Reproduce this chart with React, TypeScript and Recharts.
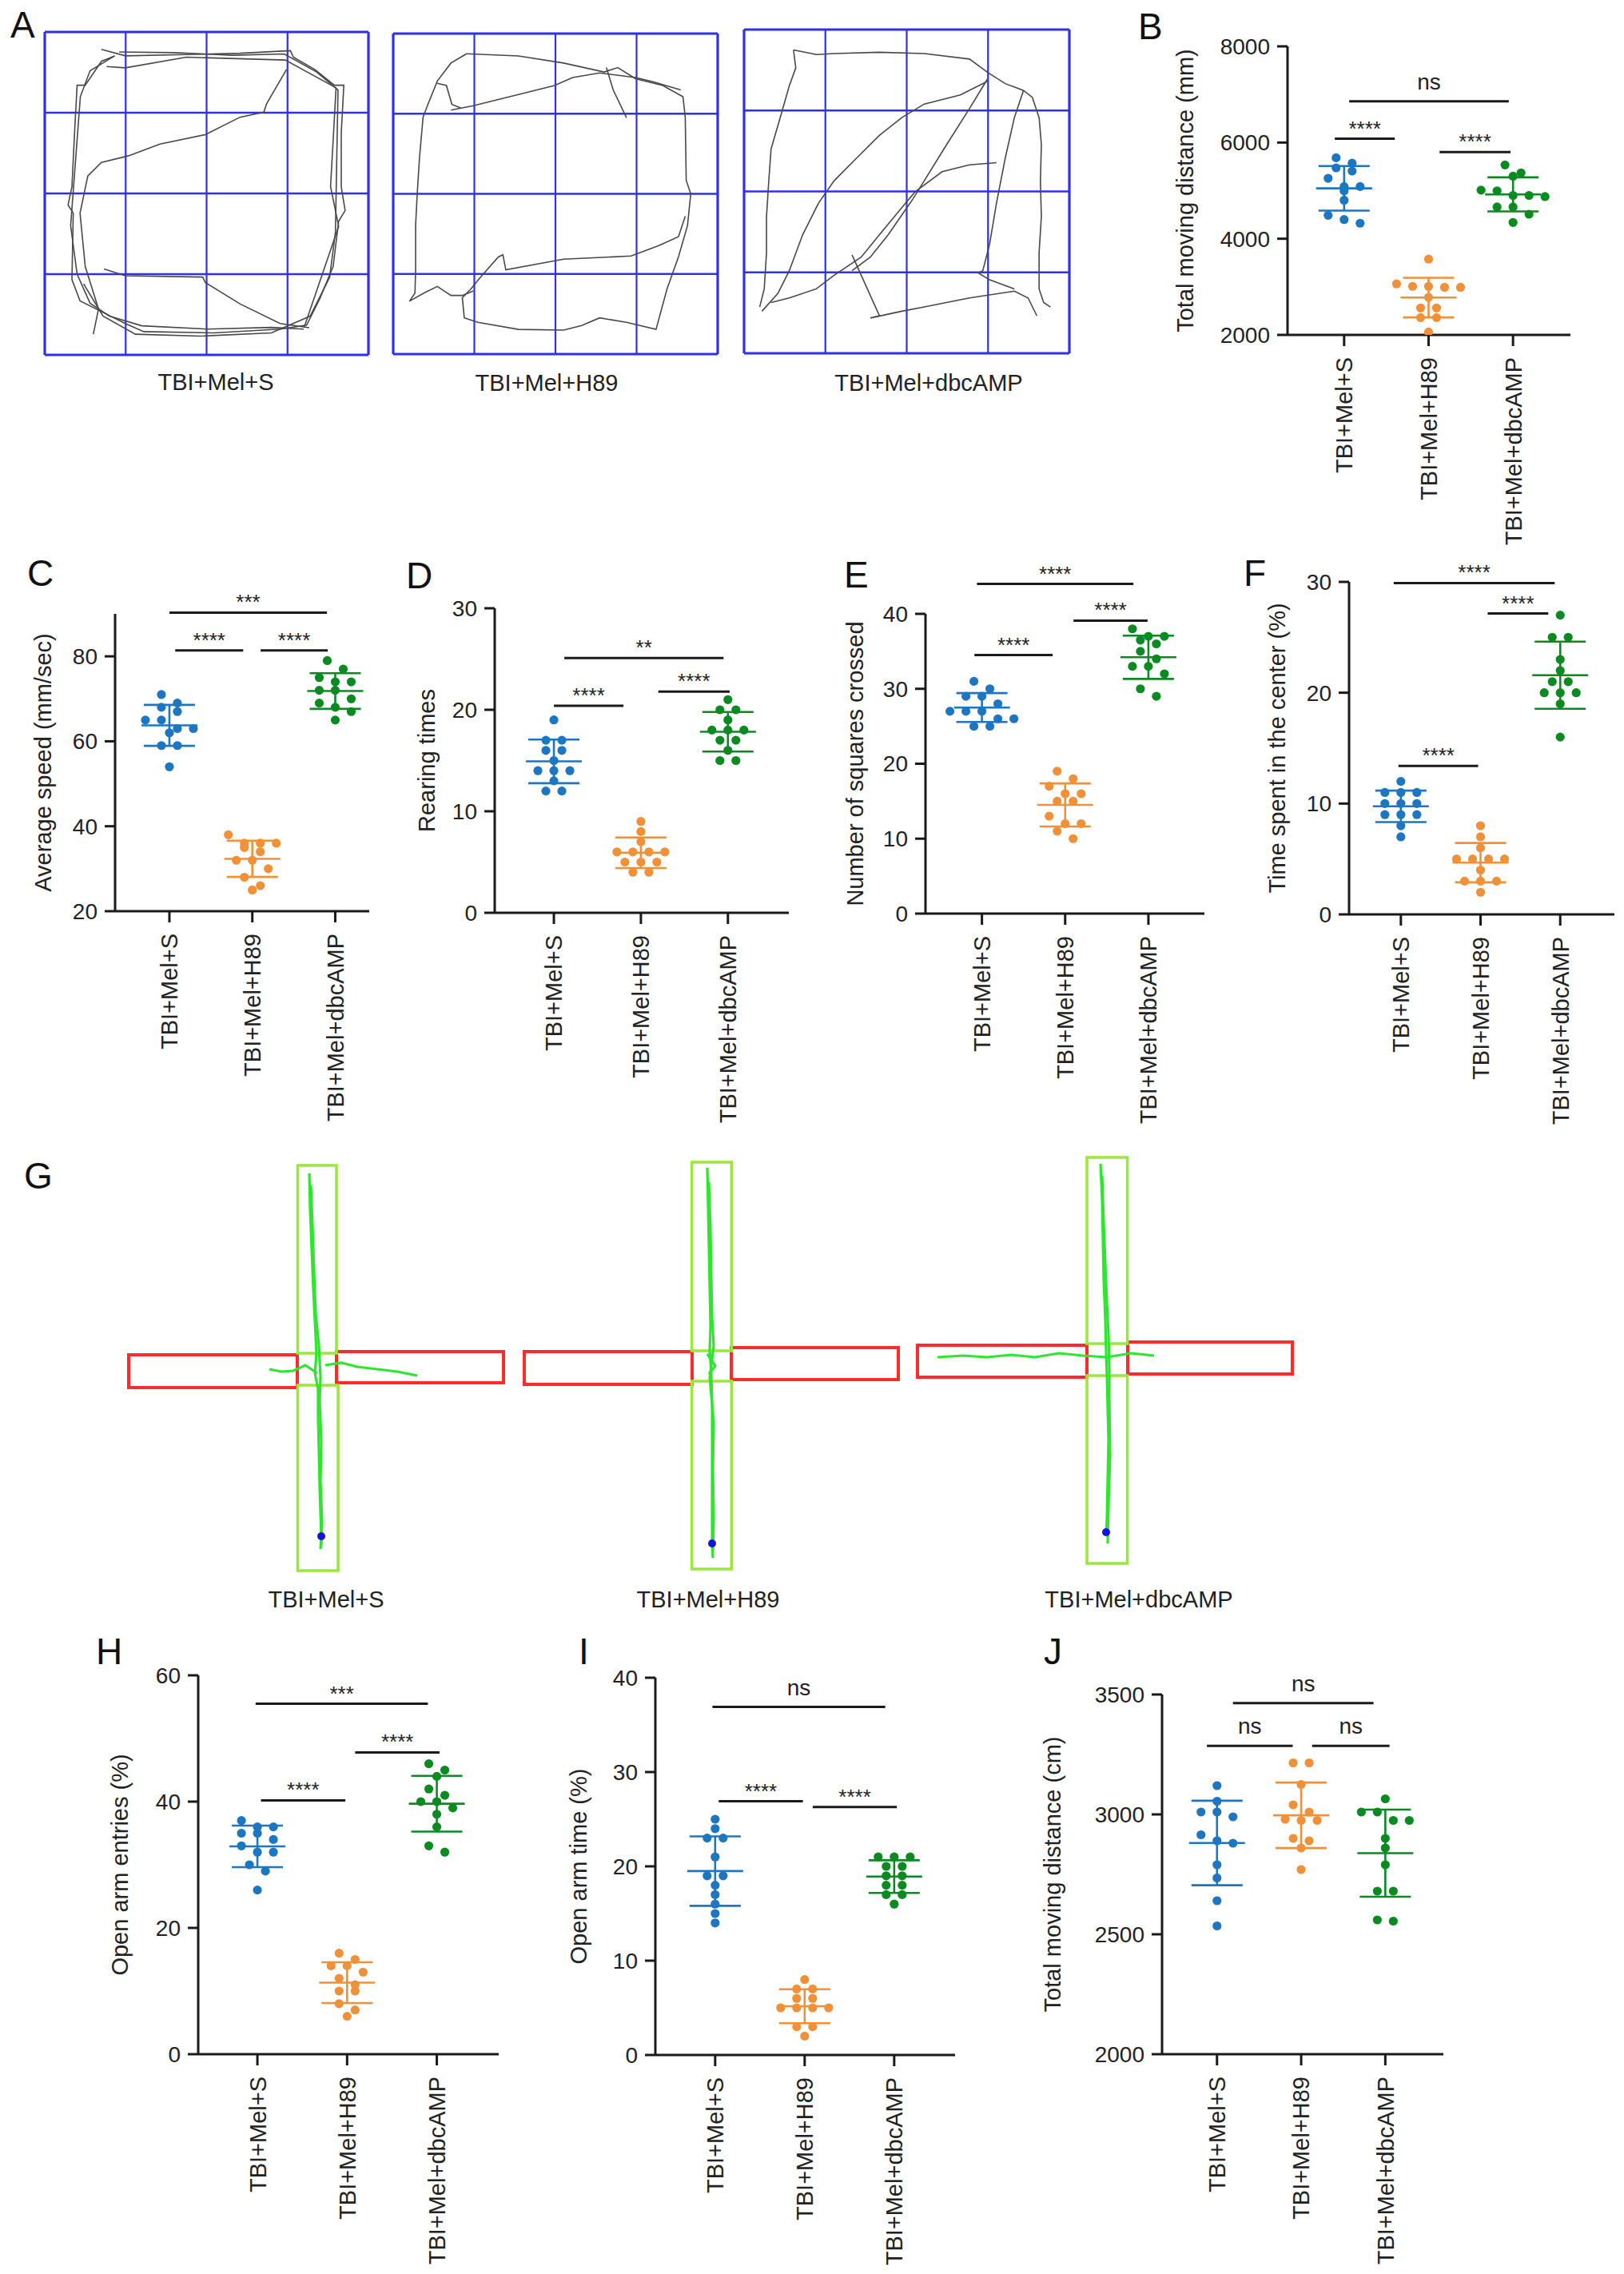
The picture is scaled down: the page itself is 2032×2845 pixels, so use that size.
import React from 'react';
import { ScatterChart, Scatter, XAxis, YAxis, ErrorBar, ReferenceLine, ReferenceArea, Label } from 'recharts';

const FONT = '"Liberation Sans", Arial, Helvetica, sans-serif';
const INK = '#1a1a1a';
const groups = ['TBI+Mel+S', 'TBI+Mel+H89', 'TBI+Mel+dbcAMP'];
const colors = ['#1f76c0', '#f0913a', '#0b8a22'];

// B - open field, total moving distance (mm)
const distS = [5683, 5571, 5474, 5407, 5257, 5085, 5085, 4996, 4801, 4487, 4398, 4323];
const distH89 = [3576, 3060, 3010, 3010, 2990, 2990, 2780, 2560, 2560, 2360, 2360, 2060];
const distDbc = [5534, 5369, 5300, 5010, 4996, 4900, 4900, 4876, 4660, 4660, 4510, 4338];
const sigB = [
  { from: 0.89, to: 1.6, y: 6080, text: '****' },
  { from: 2.13, to: 2.97, y: 5803, text: '****' },
  { from: 1.06, to: 2.95, y: 6857, text: 'ns' },
];

// C - average speed (mm/sec)
const speedS = [71, 69, 68, 67, 65, 65, 63, 63, 62, 59, 59, 54];
const speedH89 = [38, 36, 36, 36, 35, 34, 32, 32, 30, 28, 26, 25];
const speedDbc = [79, 77, 75, 74, 74, 72, 72, 70, 69, 68, 67, 65];
const sigC = [
  { from: 1.0, to: 2.9, y: 90.3, text: '***' },
  { from: 1.07, to: 1.89, y: 81.4, text: '****' },
  { from: 2.1, to: 2.91, y: 81.4, text: '****' },
];

// D - rearing times
const rearS = [19, 17, 17, 16, 16, 15, 14, 14, 14, 13, 12, 12];
const rearH89 = [9, 8, 7, 6, 6, 6, 6, 5, 5, 5, 4, 4];
const rearDbc = [21, 20, 20, 19, 18, 18, 18, 17, 17, 16, 15, 15];
const sigD = [
  { from: 1.12, to: 2.95, y: 25.1, text: '**' },
  { from: 1.0, to: 1.8, y: 20.4, text: '****' },
  { from: 2.2, to: 3.02, y: 21.8, text: '****' },
];

// E - number of squares crossed
const crossS = [31, 30, 29, 29, 28, 27, 27, 27, 26, 26, 25, 25];
const crossH89 = [19, 18, 17, 16, 16, 15, 15, 13, 12, 12, 11, 10];
const crossDbc = [38, 37, 37, 36.5, 36, 35, 34, 33, 33, 32, 30, 29];
const sigE = [
  { from: 0.94, to: 2.82, y: 44.0, text: '****' },
  { from: 0.91, to: 1.85, y: 34.5, text: '****' },
  { from: 2.1, to: 2.99, y: 39.1, text: '****' },
];

// F - time spent in the center (%)
const centerS = [12, 11, 11, 11, 10, 10, 10, 9, 9, 9, 8, 7];
const centerH89 = [8, 7, 6, 5, 5, 5, 5, 4, 3, 3, 3, 2];
const centerDbc = [27, 25, 25, 23, 22, 21, 21, 20, 20, 20, 19, 16];
const sigF = [
  { from: 0.91, to: 2.93, y: 29.9, text: '****' },
  { from: 2.09, to: 2.85, y: 27.15, text: '****' },
  { from: 0.97, to: 1.97, y: 13.4, text: '****' },
];

// H - open arm entries (%)
const entryS = [37, 36, 36, 35, 35, 34, 33, 32, 32, 30, 29, 26];
const entryH89 = [16, 15, 14, 14, 13, 12, 11, 10, 10, 8, 7, 6];
const entryDbc = [46, 45, 44, 42, 41, 40, 40, 39, 38, 36, 33, 32];
const sigH = [
  { from: 0.98, to: 2.9, y: 55.5, text: '***' },
  { from: 1.04, to: 1.98, y: 40.2, text: '****' },
  { from: 2.09, to: 3.03, y: 47.8, text: '****' },
];

// I - open arm time (%)
const armS = [25, 24, 23, 23, 21, 19, 19, 18, 17, 16, 15, 14];
const armH89 = [8, 7, 7, 6, 6, 5, 5, 5, 5, 3, 3, 2];
const armDbc = [21, 21, 21, 20, 20, 19, 19, 18, 18, 17, 17, 16];
const sigI = [
  { from: 0.97, to: 2.9, y: 36.9, text: 'ns' },
  { from: 1.04, to: 1.98, y: 26.9, text: '****' },
  { from: 2.09, to: 3.03, y: 26.3, text: '****' },
];

// J - plus maze total moving distance (cm)
const epmS = [3120, 3055, 3010, 3010, 2990, 2915, 2890, 2880, 2790, 2735, 2640, 2535];
const epmH89 = [3215, 3215, 3125, 3040, 3010, 2980, 2975, 2975, 2900, 2890, 2860, 2770];
const epmDbc = [3065, 3010, 3010, 2975, 2975, 2900, 2860, 2790, 2680, 2680, 2560, 2555];
const sigJ = [
  { from: 1.19, to: 2.86, y: 3464, text: 'ns' },
  { from: 0.88, to: 1.9, y: 3286, text: 'ns' },
  { from: 2.13, to: 3.05, y: 3286, text: 'ns' },
];

// A - open field tracks, % of arena width / height
const trackS = [
  [[17.5, 5.4], [24.9, 7.4], [43.8, 7.0], [60.3, 6.6], [75.9, 5.8], [76.8, 7.8], [83.4, 11.6], [89.5, 16.5], [92.4, 16.5], [91.6, 31.4], [91.6, 47.9], [92.8, 55.3], [90.8, 58.6], [89.1, 72.6], [85.0, 82.5], [80.9, 90.8], [72.7, 92.0], [52.1, 93.2], [30.6, 92.8], [24.9, 90.3], [17.5, 86.6], [10.9, 83.3], [8.4, 76.7], [8.8, 56.1], [7.2, 53.6], [8.4, 47.9], [9.2, 31.4], [10.0, 16.5], [12.5, 16.5], [17.5, 9.1], [21.6, 7.4]],
  [[74.7, 11.6], [68.5, 22.3], [67.7, 24.8], [60.3, 26.4], [49.6, 31.8], [35.6, 34.7], [25.7, 38.4], [17.5, 40.4], [13.3, 44.6], [10.9, 56.1], [12.5, 72.6], [16.6, 85.8], [15.0, 93.6]],
  [[18.3, 73.4], [24.9, 75.5], [48.8, 75.9], [49.6, 77.6], [60.3, 84.2], [72.7, 90.3], [81.7, 91.6]],
  [[19.1, 10.7], [24.9, 11.1], [43.8, 7.8], [74.3, 8.7], [90.0, 17.3], [88.3, 47.9], [90.8, 60.2], [80.1, 91.6]],
  [[21.6, 7.4], [14, 12], [11, 20], [9.5, 40], [8, 60], [10, 75], [14, 84], [20, 88], [30, 91], [50, 92], [70, 91.5], [80, 92]],
  [[23, 6.2], [40, 6.4], [58, 7.2], [74, 6.8], [84, 12.4], [90.6, 18], [90.2, 40], [89.8, 62], [88, 76], [82, 88], [70, 93.2], [48, 94.2], [28, 93.6], [18, 88], [12, 78]],
];
const trackH89 = [
  [[22.6, 6.3], [38.6, 7.0], [52.5, 9.2], [65.0, 12.0], [69.2, 10.6], [74.7, 14.1], [83.1, 16.2], [89.3, 19.7], [90.0, 26.1], [90.3, 45.8], [91.7, 50.0], [90.7, 59.9], [87.9, 69.7], [84.4, 79.6], [81.0, 92.3], [71.9, 90.1], [63.6, 88.7], [58.1, 91.1], [52.5, 92.5], [38.6, 92.3], [26.1, 90.1], [21.9, 88.7], [21.3, 82.4], [24.0, 79.6], [26.8, 76.1], [32.4, 69.7], [33.8, 69.0], [34.7, 73.7], [52.5, 70.4], [73.3, 69.4], [81.7, 66.2], [87.9, 63.4], [90.0, 57.0]],
  [[22.6, 6.3], [17.8, 9.2], [13.6, 14.8], [10.8, 21.8], [9.2, 26.1], [8.1, 38.7], [7.4, 50.0], [6.9, 59.9], [6.9, 73.9], [6.7, 81.0], [5.0, 83.5], [9.4, 81.0], [13.6, 78.9], [17.8, 81.7], [21.3, 81.7], [24.7, 80.3]],
  [[17.8, 23.9], [24.7, 22.5], [38.6, 19.0], [49.7, 16.2], [55.3, 13.7], [63.6, 12.3], [74.7, 13.7], [80.3, 15.1], [88.6, 17.6]],
  [[13.6, 15.5], [16.4, 16.2], [18.1, 22.1], [20.8, 23.2]],
  [[65.7, 10.6], [67.8, 17.6], [71.9, 26.3]],
];
const trackDbc = [
  [[15.2, 6.3], [22.2, 7.7], [27.7, 7.4], [41.6, 7.0], [55.4, 7.4], [69.3, 9.1], [74.8, 13.2], [80.3, 16.7], [85.9, 18.8], [88.6, 20.9], [90.7, 27.2], [91.4, 35.5], [91.1, 46.7], [91.4, 57.8], [90.7, 68.9], [90.7, 80.1], [92.1, 84.3], [94.2, 85.7]],
  [[15.2, 6.3], [15.9, 11.8], [13.9, 17.4], [11.1, 27.2], [8.3, 36.9], [7.6, 46.7], [6.9, 57.8], [6.9, 68.9], [6.2, 80.1], [4.8, 85.7]],
  [[74.8, 16.0], [66.5, 20.2], [55.4, 23.0], [48.5, 27.2], [41.6, 32.7], [34.6, 39.7], [27.7, 46.7], [22.9, 53.6], [18.0, 63.4], [13.9, 74.5], [10.4, 81.5], [5.5, 87.0]],
  [[74.8, 15.3], [69.3, 24.4], [62.3, 35.5], [55.4, 46.7], [52.0, 52.2], [44.3, 63.4], [38.8, 70.3], [33.2, 74.5]],
  [[77.6, 41.1], [69.3, 41.8], [60.9, 43.9], [52.6, 50.1], [48.5, 55.0], [41.6, 63.4], [36.0, 70.3], [27.7, 75.9], [22.2, 80.1], [13.9, 82.9], [8.3, 84.3]],
  [[33.2, 69.6], [41.6, 88.4], [38.8, 89.1], [48.5, 87.0], [55.4, 85.7], [69.3, 82.9], [83.1, 80.8], [87.3, 82.9], [90.0, 88.4]],
  [[85.9, 18.8], [83.1, 27.2], [80.3, 39.7], [77.6, 53.6], [75.5, 66.2], [73.4, 74.5], [72.0, 75.2], [75.5, 77.3], [83.1, 80.1]],
];

// G - elevated plus maze; arms in px from the maze centre [x1, x2, y1, y2]
const mazeOpen = [
  [[-236, -25, -18, 23], [24, 233, -22, 17]],
  [[-234, -24, -18, 23], [25, 234, -23, 17]],
  [[-237, -25, -18, 22], [26, 232, -22, 18]],
];
const mazeClosed = [
  [[-24.5, 24, -255, -20], [-24.5, 26, 20, 252]],
  [[-24.4, 25.3, -255, -19], [-24.4, 25.3, 19, 254]],
  [[-25, 25.6, -253, -20], [-25, 25.6, 20, 255]],
];
const mazeTracks = [
  [
    [[-10, -245], [-9, -200], [-7, -150], [-5, -100], [-3, -60], [-1, -20], [-3, 5], [1, 25], [1, 60], [2, 100], [3, 150], [4, 180], [5, 210], [4, 225]],
    [[-8, -230], [-6, -180], [-4, -120], [-2, -70], [2, -30], [4, 10], [3, 40], [5, 90], [4, 140], [6, 190], [5, 220]],
    [[10, -5], [30, -8], [50, -3], [75, 0], [100, 3], [125, 8]],
    [[-60, 0], [-45, 3], [-30, 2], [-15, -5], [0, 5]],
  ],
  [
    [[-5, -248], [-4, -200], [-3, -150], [-2, -100], [-1, -50], [-2, -20], [0, 10], [1, 50], [1, 100], [1, 150], [1, 200], [1, 222], [2, 240]],
    [[-3, -230], [-1, -170], [0, -110], [1, -60], [3, -25], [-2, 15], [3, 70], [2, 130], [3, 190], [2, 230]],
    [[-5, -15], [5, 0], [-3, 10]],
  ],
  [
    [[-8, -245], [-6, -200], [-5, -150], [-4, -100], [-2, -50], [-1, -10], [0, 20], [1, 60], [2, 100], [1, 150], [0, 200], [-1, 215]],
    [[-6, -230], [-4, -170], [-2, -120], [0, -70], [2, -30], [3, 10], [3, 50], [4, 120], [2, 180], [1, 230]],
    [[-212, -3], [-180, -5], [-150, -3], [-120, -6], [-90, -3], [-60, -8], [-30, -5], [0, -3], [30, -8], [59, -5]],
  ],
];
const mazeEnd = [[5, 209], [1, 222], [-1, 216]];

const gridSteps = [0, 25, 50, 75, 100];

type Sig = { from: number; to: number; y: number; text: string };

function swarm(vals: number[], cx: number, pxX: number, pxY: number) {
  const sorted = [...vals].sort((a, b) => b - a);
  const rows: number[][] = [];
  sorted.forEach((v) => {
    const row = rows[rows.length - 1];
    if (row && (row[0] - v) * pxY < 11) row.push(v);
    else rows.push([v]);
  });
  const pts: { x: number; y: number }[] = [];
  rows.forEach((row) => {
    row.forEach((v, i) => pts.push({ x: cx + ((i - (row.length - 1) / 2) * 20) / pxX, y: v }));
  });
  return pts;
}

function summary(vals: number[]) {
  const n = vals.length;
  const mean = vals.reduce((s, v) => s + v, 0) / n;
  const sd = Math.sqrt(vals.reduce((s, v) => s + (v - mean) ** 2, 0) / (n - 1));
  return { mean, sd };
}

const CatTick = (props: any) => {
  const { x, y, payload } = props;
  const name = groups[Math.round(payload.value) - 1] ?? '';
  return (
    <text x={x} y={y} dy="0.36em" transform={`rotate(-90 ${x} ${y})`} textAnchor="end" fontSize={29} fill="#222">
      {name}
    </text>
  );
};

const sigLabel = (text: string) => (props: any) => {
  const vb = props.viewBox || {};
  const cx = (vb.x ?? 0) + (vb.width ?? 0) / 2;
  const y = vb.y ?? 0;
  const star = text.includes('*');
  return (
    <text x={cx} y={star ? y - 4 : y - 15} textAnchor="middle" fontSize={star ? 26 : 28} fill="#222">
      {text}
    </text>
  );
};

type PanelProps = {
  box: { left: number; top: number; bottom: number; right: number };
  xDomain: [number, number];
  yDomain: [number, number];
  yTicks: number[];
  title: string;
  titleX: number;
  series: number[][];
  sigs: Sig[];
};

function DotPanel({ box, xDomain, yDomain, yTicks, title, titleX, series, sigs }: PanelProps) {
  const ML = 170, MR = 30, MT = 140, MB = 290, YW = 120, XH = 280;
  const plotW = box.right - box.left;
  const plotH = box.bottom - box.top;
  const chartLeft = box.left - ML;
  const chartTop = box.top - MT;
  const pxX = plotW / (xDomain[1] - xDomain[0]);
  const pxY = plotH / (yDomain[1] - yDomain[0]);
  const tx = titleX - chartLeft;
  const ty = (box.top + box.bottom) / 2 - chartTop;

  return (
    <div style={{ position: 'absolute', left: chartLeft, top: chartTop }}>
      <ScatterChart
        width={plotW + ML + MR}
        height={plotH + MT + MB}
        margin={{ top: MT, right: MR, bottom: MB - XH, left: ML - YW }}
      >
        <XAxis
          type="number"
          dataKey="x"
          domain={xDomain}
          ticks={[1, 2, 3]}
          interval={0}
          allowDataOverflow
          height={XH}
          tick={<CatTick />}
          tickSize={14}
          tickMargin={14}
          axisLine={{ stroke: INK, strokeWidth: 3 }}
          tickLine={{ stroke: INK, strokeWidth: 3 }}
        />
        <YAxis
          type="number"
          dataKey="y"
          domain={yDomain}
          ticks={yTicks}
          interval={0}
          allowDataOverflow
          width={YW}
          tickSize={13}
          tickMargin={9}
          tick={{ fontSize: 28, fill: '#222' }}
          axisLine={{ stroke: INK, strokeWidth: 3 }}
          tickLine={{ stroke: INK, strokeWidth: 3 }}
        >
          <Label
            content={() => (
              <text x={tx} y={ty} dy="0.36em" transform={`rotate(-90 ${tx} ${ty})`} textAnchor="middle" fontSize={29} fill="#222">
                {title}
              </text>
            )}
          />
        </YAxis>
        {series.map((vals, gi) => (
          <Scatter
            key={`dots-${gi}`}
            data={swarm(vals, gi + 1, pxX, pxY)}
            fill={colors[gi]}
            isAnimationActive={false}
            shape={(p: any) => <circle cx={p.cx} cy={p.cy} r={5.6} fill={colors[gi]} />}
          />
        ))}
        {series.map((vals, gi) => {
          const { mean, sd } = summary(vals);
          return (
            <Scatter
              key={`bar-${gi}`}
              data={[{ x: gi + 1, y: mean, sd, hw: 35 / pxX }]}
              fill={colors[gi]}
              isAnimationActive={false}
              shape={() => <g />}
            >
              <ErrorBar dataKey="hw" direction="x" width={0} stroke={colors[gi]} strokeWidth={2.6} isAnimationActive={false} />
              <ErrorBar dataKey="sd" direction="y" width={32} stroke={colors[gi]} strokeWidth={2.6} isAnimationActive={false} />
            </Scatter>
          );
        })}
        {sigs.map((s, i) => (
          <ReferenceLine
            key={`sig-${i}`}
            segment={[{ x: s.from, y: s.y }, { x: s.to, y: s.y }]}
            stroke={INK}
            strokeWidth={3}
            ifOverflow="visible"
            label={sigLabel(s.text)}
          />
        ))}
      </ScatterChart>
    </div>
  );
}

function Arena({ left, top, width, height, strands }: { left: number; top: number; width: number; height: number; strands: number[][][] }) {
  const pad = 4;
  return (
    <div style={{ position: 'absolute', left: left - pad, top: top - pad }}>
      <ScatterChart width={width + 2 * pad} height={height + 2 * pad} margin={{ top: pad, right: pad, bottom: pad, left: pad }}>
        <XAxis type="number" dataKey="x" domain={[0, 100]} hide allowDataOverflow />
        <YAxis type="number" dataKey="y" domain={[0, 100]} reversed hide allowDataOverflow />
        {gridSteps.map((v) => (
          <ReferenceLine key={`gx-${v}`} x={v} stroke="#2f2ff2" strokeWidth={v % 100 === 0 ? 3.2 : 2.2} ifOverflow="visible" />
        ))}
        {gridSteps.map((v) => (
          <ReferenceLine key={`gy-${v}`} y={v} stroke="#2f2ff2" strokeWidth={v % 100 === 0 ? 3.2 : 2.6} ifOverflow="visible" />
        ))}
        {strands.map((s, i) => (
          <Scatter
            key={`t-${i}`}
            data={s.map(([x, y]) => ({ x, y }))}
            fill="#505050"
            line={{ stroke: '#484848', strokeWidth: 1.6 }}
            shape={() => <g />}
            isAnimationActive={false}
          />
        ))}
      </ScatterChart>
    </div>
  );
}

function Maze({ cx, cy, idx }: { cx: number; cy: number; idx: number }) {
  return (
    <div style={{ position: 'absolute', left: cx - 260, top: cy - 270 }}>
      <ScatterChart width={520} height={540} margin={{ top: 0, right: 0, bottom: 0, left: 0 }}>
        <XAxis type="number" dataKey="x" domain={[-260, 260]} hide allowDataOverflow />
        <YAxis type="number" dataKey="y" domain={[-270, 270]} reversed hide allowDataOverflow />
        {mazeOpen[idx].map((r, i) => (
          <ReferenceArea key={`o-${i}`} x1={r[0]} x2={r[1]} y1={r[2]} y2={r[3]} fill="none" fillOpacity={0} stroke="#ff2b2b" strokeWidth={4} ifOverflow="visible" />
        ))}
        {mazeClosed[idx].map((r, i) => (
          <ReferenceArea key={`c-${i}`} x1={r[0]} x2={r[1]} y1={r[2]} y2={r[3]} fill="none" fillOpacity={0} stroke="#9be83c" strokeWidth={3.5} ifOverflow="visible" />
        ))}
        {mazeTracks[idx].map((s, i) => (
          <Scatter
            key={`m-${i}`}
            data={s.map(([x, y]) => ({ x, y }))}
            fill="#2fe52f"
            line={{ stroke: '#2fe52f', strokeWidth: 3.2 }}
            shape={() => <g />}
            isAnimationActive={false}
          />
        ))}
        <Scatter
          data={[{ x: mazeEnd[idx][0], y: mazeEnd[idx][1] }]}
          fill="#1414d8"
          isAnimationActive={false}
          shape={(p: any) => <circle cx={p.cx} cy={p.cy} r={5} fill="#1414d8" />}
        />
      </ScatterChart>
    </div>
  );
}

const letters: [string, number, number][] = [
  ['A', 13, 47], ['B', 1424, 49], ['C', 34, 733], ['D', 508, 736], ['E', 1056, 735],
  ['F', 1556, 733], ['G', 30, 1487], ['H', 120, 2082], ['I', 724, 2082], ['J', 1306, 2082],
];
const sectionLabels: [string, number, number][] = [
  ['TBI+Mel+S', 270, 488], ['TBI+Mel+H89', 684, 489], ['TBI+Mel+dbcAMP', 1162, 489],
  ['TBI+Mel+S', 408, 2011], ['TBI+Mel+H89', 886, 2011], ['TBI+Mel+dbcAMP', 1425, 2011],
];

export default function App() {
  return (
    <div style={{ position: 'absolute', left: 0, top: 0, width: 2032, height: 2845, background: '#fff', fontFamily: FONT, overflow: 'hidden' }}>
      <svg width={2032} height={2845} style={{ position: 'absolute', left: 0, top: 0 }}>
        {letters.map(([t, x, y]) => (
          <text key={t} x={x} y={y} fontSize={46} fill="#111">{t}</text>
        ))}
        {sectionLabels.map(([t, x, y], i) => (
          <text key={i} x={x} y={y} fontSize={29} fill="#222" textAnchor="middle">{t}</text>
        ))}
      </svg>

      <Arena left={56} top={40} width={405} height={404} strands={trackS} />
      <Arena left={492} top={42} width={406} height={401} strands={trackH89} />
      <Arena left={931} top={37} width={407} height={405} strands={trackDbc} />

      <Maze cx={397} cy={1713} idx={0} />
      <Maze cx={890} cy={1709} idx={1} />
      <Maze cx={1385} cy={1701} idx={2} />

      <DotPanel box={{ left: 1611, top: 58, bottom: 419, right: 1965 }} xDomain={[0.33, 3.68]} yDomain={[2000, 8000]} yTicks={[2000, 4000, 6000, 8000]} title="Total moving distance (mm)" titleX={1483} series={[distS, distH89, distDbc]} sigs={sigB} />
      <DotPanel box={{ left: 144, top: 768, bottom: 1140, right: 462 }} xDomain={[0.345, 3.41]} yDomain={[20, 90]} yTicks={[20, 40, 60, 80]} title="Average speed (mm/sec)" titleX={54} series={[speedS, speedH89, speedDbc]} sigs={sigC} />
      <DotPanel box={{ left: 619, top: 761, bottom: 1142, right: 987 }} xDomain={[0.32, 3.7]} yDomain={[0, 30]} yTicks={[0, 10, 20, 30]} title="Rearing times" titleX={534} series={[rearS, rearH89, rearDbc]} sigs={sigD} />
      <DotPanel box={{ left: 1158, top: 768, bottom: 1143, right: 1507 }} xDomain={[0.322, 3.673]} yDomain={[0, 40]} yTicks={[0, 10, 20, 30, 40]} title="Number of squares crossed" titleX={1070} series={[crossS, crossH89, crossDbc]} sigs={sigE} />
      <DotPanel box={{ left: 1688, top: 728, bottom: 1144, right: 2020 }} xDomain={[0.35, 3.68]} yDomain={[0, 30]} yTicks={[0, 10, 20, 30]} title="Time spent in the center (%)" titleX={1598} series={[centerS, centerH89, centerDbc]} sigs={sigF} />
      <DotPanel box={{ left: 248, top: 2096, bottom: 2570, right: 624 }} xDomain={[0.34, 3.69]} yDomain={[0, 60]} yTicks={[0, 20, 40, 60]} title="Open arm entries (%)" titleX={150} series={[entryS, entryH89, entryDbc]} sigs={sigH} />
      <DotPanel box={{ left: 820, top: 2099, bottom: 2571, right: 1195 }} xDomain={[0.332, 3.68]} yDomain={[0, 40]} yTicks={[0, 10, 20, 30, 40]} title="Open arm time (%)" titleX={724} series={[armS, armH89, armDbc]} sigs={sigI} />
      <DotPanel box={{ left: 1454, top: 2120, bottom: 2570, right: 1806 }} xDomain={[0.347, 3.69]} yDomain={[2000, 3500]} yTicks={[2000, 2500, 3000, 3500]} title="Total moving distance (cm)" titleX={1317} series={[epmS, epmH89, epmDbc]} sigs={sigJ} />
    </div>
  );
}
